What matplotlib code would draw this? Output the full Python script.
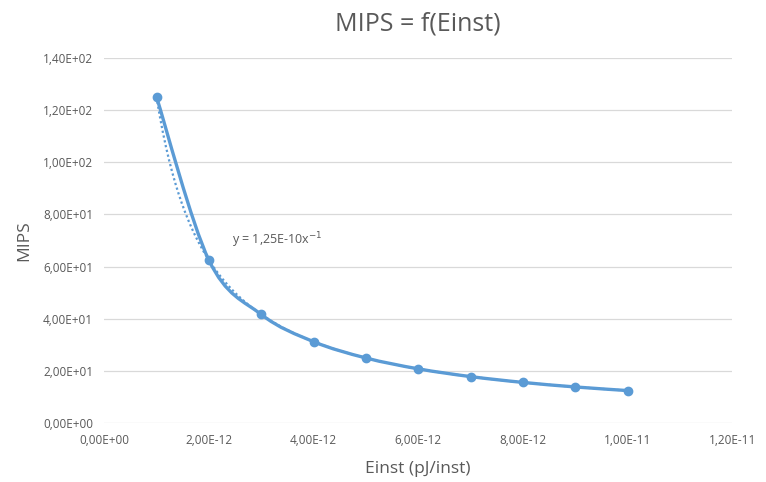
"""MIPS = f(Einst) scatter with power trendline."""

import numpy as np
import matplotlib.pyplot as plt
from matplotlib.path import Path
from matplotlib.patches import PathPatch
from matplotlib.ticker import FuncFormatter

plt.rcParams["font.family"] = ["Open Sans", "DejaVu Sans"]

# values
einst = [1e-12, 2e-12, 3e-12, 4e-12, 5e-12, 6e-12, 7e-12, 8e-12, 9e-12, 1e-11]
mips = [125.0, 62.5, 41.67, 31.25, 25.0, 20.83, 17.86, 15.63, 13.89, 12.5]
x_ticks = [0, 2e-12, 4e-12, 6e-12, 8e-12, 1e-11, 1.2e-11]
y_ticks = [0, 20, 40, 60, 80, 100, 120, 140]
trend_label = "y = 1,25E-10x$^{-1}$"

blue = "#5b9bd5"
grey = "#595959"


def sci_comma(v, pos):
    return f"{v:.2E}".replace(".", ",")


def smooth_path(xs, ys):
    # Excel-like smoothed line: cubic bezier through the points (Catmull-Rom control points)
    pts = np.column_stack([xs, ys])
    n = len(pts)
    verts = [pts[0]]
    codes = [Path.MOVETO]
    for i in range(n - 1):
        p0 = pts[max(i - 1, 0)]
        p1 = pts[i]
        p2 = pts[i + 1]
        p3 = pts[min(i + 2, n - 1)]
        verts += [p1 + (p2 - p0) / 6, p2 - (p3 - p1) / 6, p2]
        codes += [Path.CURVE4] * 3
    return Path(verts, codes)


fig = plt.figure(figsize=(7.66, 4.82), dpi=100)
ax = fig.add_axes([0.136, 0.122, 0.820, 0.758])

# power trendline (least squares in log space), as Excel does
x = np.array(einst)
y = np.array(mips)
b, log_a = np.polyfit(np.log(x), np.log(y), 1)
xt = np.linspace(x.min(), x.max(), 300)
ax.plot(xt, np.exp(log_a) * xt**b, linestyle=(0, (1, 1.2)), color=blue, lw=1.6, zorder=2)

ax.add_patch(PathPatch(smooth_path(x, y), facecolor="none", edgecolor=blue, lw=2.4,
                       capstyle="round", joinstyle="round", zorder=3))
ax.plot(einst, mips, "o", color=blue, ms=6, zorder=4)

ax.text(2.45e-12, 70, trend_label, color=grey, fontsize=9, va="center")

ax.set_xlim(0, 1.2e-11)
ax.set_ylim(0, 140)
ax.set_xticks(x_ticks)
ax.set_yticks(y_ticks)
ax.xaxis.set_major_formatter(FuncFormatter(sci_comma))
ax.yaxis.set_major_formatter(FuncFormatter(sci_comma))

ax.grid(True, axis="y", color="#d9d9d9", lw=0.9)
ax.set_axisbelow(True)
for s in ax.spines.values():
    s.set_visible(False)
ax.tick_params(length=0, labelsize=8.5, labelcolor=grey, pad=8)

ax.set_title("MIPS = f(Einst)", fontsize=18, color=grey, pad=20)
ax.set_xlabel("Einst (pJ/inst)", fontsize=12.5, color=grey, labelpad=10)
ax.set_ylabel("MIPS", fontsize=12.5, color=grey, labelpad=8)

plt.savefig("out.png", dpi=100)
